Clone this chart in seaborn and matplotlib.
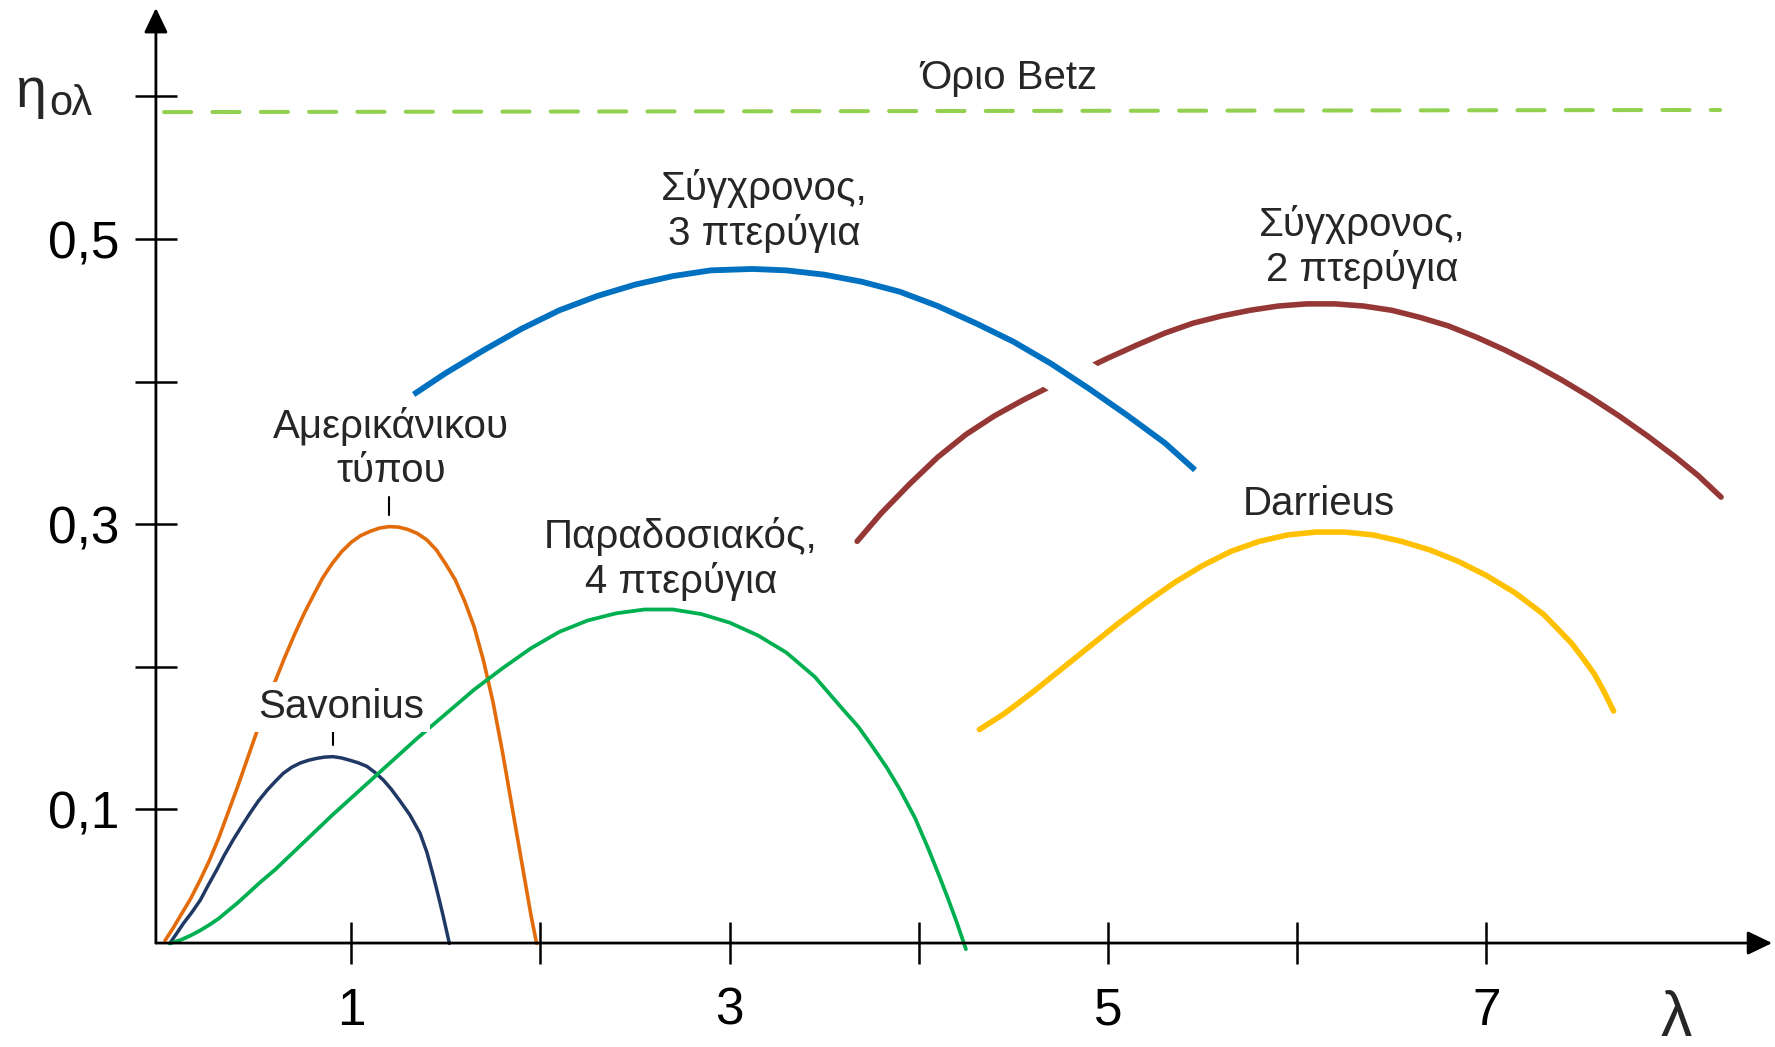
import matplotlib.pyplot as plt
import matplotlib.patheffects as pe
import seaborn as sns

# tip speed ratio (lambda) and overall efficiency
savonius_lam = [0.041, 0.08, 0.113, 0.16, 0.203, 0.245, 0.289, 0.33, 0.376, 0.42, 0.465, 0.51, 0.556,
                0.60, 0.641, 0.685, 0.730, 0.775, 0.818, 0.86, 0.903, 0.945, 0.990, 1.035, 1.083, 1.125,
                1.170, 1.21, 1.256, 1.31, 1.364, 1.40, 1.436, 1.465, 1.487, 1.519]
savonius_eta = [0.006, 0.0135, 0.020, 0.0282, 0.0365, 0.047, 0.0575, 0.068, 0.0786, 0.088, 0.0973, 0.106,
                0.1135, 0.1198, 0.1253, 0.1295, 0.1325, 0.1345, 0.1358, 0.1367, 0.1370, 0.1362, 0.1346,
                0.1328, 0.1302, 0.126, 0.1206, 0.1145, 0.1063, 0.0962, 0.0833, 0.070, 0.0524, 0.037,
                0.0248, 0.006]

american_lam = [0.016, 0.06, 0.10, 0.15, 0.20, 0.25, 0.30, 0.35, 0.40, 0.45, 0.50, 0.55, 0.60, 0.65,
                0.70, 0.75, 0.80, 0.85, 0.90, 0.95, 1.00, 1.05, 1.10, 1.15, 1.20, 1.25, 1.30, 1.35,
                1.40, 1.45, 1.50, 1.55, 1.60, 1.65, 1.70, 1.75, 1.80, 1.85, 1.90, 1.95, 1.98]
american_eta = [0.008, 0.017, 0.026, 0.037, 0.050, 0.064, 0.080, 0.098, 0.116, 0.135, 0.154, 0.172,
                0.1905, 0.207, 0.2225, 0.237, 0.250, 0.2625, 0.2725, 0.2808, 0.2873, 0.292, 0.295,
                0.2973, 0.2983, 0.298, 0.2963, 0.2935, 0.289, 0.282, 0.272, 0.261, 0.246, 0.228, 0.204,
                0.175, 0.140, 0.102, 0.064, 0.026, 0.006]

dutch_lam = [0.042, 0.10, 0.15, 0.20, 0.25, 0.30, 0.35, 0.40, 0.45, 0.52, 0.60, 0.75, 0.90, 1.05,
             1.20, 1.35, 1.50, 1.65, 1.80, 1.95, 2.10, 2.25, 2.40, 2.55, 2.70, 2.85, 3.00, 3.15,
             3.30, 3.45, 3.60, 3.68, 3.75, 3.83, 3.90, 3.98, 4.05, 4.10, 4.15, 4.20, 4.249]
dutch_eta = [0.006, 0.0085, 0.0115, 0.015, 0.019, 0.0235, 0.029, 0.0345, 0.0405, 0.049, 0.058, 0.077,
             0.096, 0.114, 0.132, 0.150, 0.167, 0.184, 0.199, 0.213, 0.2245, 0.2325, 0.2375, 0.2402,
             0.2402, 0.237, 0.231, 0.222, 0.210, 0.193, 0.170, 0.158, 0.145, 0.1295, 0.114, 0.094,
             0.0725, 0.056, 0.039, 0.021, 0.002]

three_blade_lam = [1.33, 1.50, 1.70, 1.90, 2.10, 2.30, 2.50, 2.70, 2.90, 3.12, 3.30, 3.50, 3.70, 3.90,
                   4.10, 4.30, 4.50, 4.70, 4.90, 5.10, 5.30, 5.46]
three_blade_eta = [0.391, 0.406, 0.422, 0.437, 0.450, 0.460, 0.468, 0.474, 0.478, 0.479, 0.478, 0.475,
                   0.470, 0.463, 0.453, 0.441, 0.428, 0.4125, 0.395, 0.3765, 0.357, 0.338]

two_blade_lam = [3.674, 3.80, 3.95, 4.10, 4.25, 4.40, 4.55, 4.70, 4.85, 5.00, 5.15, 5.30, 5.45, 5.60,
                 5.75, 5.90, 6.05, 6.20, 6.35, 6.50, 6.65, 6.80, 6.95, 7.10, 7.25, 7.40, 7.55, 7.70,
                 7.85, 8.00, 8.12, 8.24]
two_blade_eta = [0.288, 0.3075, 0.328, 0.347, 0.363, 0.376, 0.387, 0.397, 0.407, 0.4165, 0.4255, 0.434,
                 0.441, 0.446, 0.450, 0.453, 0.4545, 0.4545, 0.453, 0.450, 0.445, 0.439, 0.431, 0.422,
                 0.412, 0.401, 0.389, 0.376, 0.362, 0.347, 0.334, 0.319]

darrieus_lam = [4.32, 4.45, 4.60, 4.75, 4.90, 5.05, 5.20, 5.35, 5.50, 5.65, 5.80, 5.95, 6.10, 6.25,
                6.40, 6.55, 6.70, 6.85, 7.00, 7.15, 7.30, 7.37, 7.45, 7.51, 7.57, 7.62, 7.672]
darrieus_eta = [0.156, 0.167, 0.182, 0.198, 0.214, 0.230, 0.245, 0.259, 0.271, 0.281, 0.288, 0.2925,
                0.2945, 0.2945, 0.2925, 0.288, 0.282, 0.274, 0.264, 0.252, 0.237, 0.2275, 0.2165,
                0.206, 0.195, 0.183, 0.169]

betz_lam = [0.011, 8.235]
betz_eta = [0.589, 0.5905]

x_ticks = [1, 2, 3, 4, 5, 6, 7]
x_ticklabels = ['1', '', '3', '', '5', '', '7']
y_ticks = [0.1, 0.2, 0.3, 0.4, 0.5, 0.6]
y_ticklabels = ['0,1', '', '0,3', '', '0,5', '']

sns.set_theme(style='white')
plt.rcParams['font.family'] = ['Liberation Sans', 'DejaVu Sans']

fig = plt.figure(figsize=(17.75, 10.47), dpi=100)
ax = fig.add_axes([0, 0, 1, 1])

# thin curves
sns.lineplot(x=savonius_lam, y=savonius_eta, color='#203864', lw=2.5, estimator=None,
             solid_capstyle='round', solid_joinstyle='round', clip_on=False, ax=ax)
sns.lineplot(x=american_lam, y=american_eta, color='#E36C0A', lw=2.6, estimator=None,
             solid_capstyle='round', solid_joinstyle='round', clip_on=False, ax=ax)
sns.lineplot(x=dutch_lam, y=dutch_eta, color='#00B050', lw=2.7, estimator=None,
             solid_capstyle='round', solid_joinstyle='round', clip_on=False, ax=ax)

# thick curves
sns.lineplot(x=two_blade_lam, y=two_blade_eta, color='#953735', lw=4.0, estimator=None,
             solid_capstyle='round', solid_joinstyle='round', zorder=2, ax=ax)
sns.lineplot(x=three_blade_lam, y=three_blade_eta, color='#0070C0', lw=4.2, estimator=None,
             solid_capstyle='butt', solid_joinstyle='round', zorder=3, ax=ax,
             path_effects=[pe.Stroke(linewidth=34, foreground='white', capstyle='butt'), pe.Normal()])
sns.lineplot(x=darrieus_lam, y=darrieus_eta, color='#FFC000', lw=4.0, estimator=None,
             solid_capstyle='round', solid_joinstyle='round', ax=ax)

# Betz limit
sns.lineplot(x=betz_lam, y=betz_eta, color='#92D050', lw=2.9, estimator=None,
             linestyle=(0, (6.75, 5.25)), dash_capstyle='round', ax=ax)

ax.set_xlim(-0.856, 8.525)
ax.set_ylim(-0.0666, 0.6676)

# axes drawn as arrows through the origin
for s in ax.spines.values():
    s.set_visible(False)
ax.spines['left'].set_position(('data', -0.032))
ax.spines['bottom'].set_position(('data', 0.0063))
arrow = dict(arrowstyle='-|>,head_length=0.75,head_width=0.36', color='black', lw=2.0,
             shrinkA=0, shrinkB=0, mutation_scale=20)
ax.annotate('', xy=(8.51, 0.0063), xytext=(-0.032, 0.0063), arrowprops=arrow, annotation_clip=False)
ax.annotate('', xy=(-0.032, 0.662), xytext=(-0.032, 0.0063), arrowprops=arrow, annotation_clip=False)

ax.set_xticks(x_ticks, x_ticklabels)
ax.set_yticks(y_ticks, y_ticklabels)
ax.tick_params(axis='both', direction='inout', length=30, width=1.8, labelsize=37,
               color='black', labelcolor='black', bottom=True, left=True, top=False, right=False)
ax.tick_params(axis='x', pad=16.5)
ax.tick_params(axis='y', pad=11.5)
ax.grid(False)
ax.set_xlabel('')
ax.set_ylabel('')

# axis titles
fig.text(15 / 1775, 1 - 107 / 1047, 'η', fontsize=40, ha='left', va='baseline')
fig.text(49 / 1775, 1 - 115 / 1047, 'ολ', fontsize=30, ha='left', va='baseline')
fig.text(1676 / 1775, 1 - 1036 / 1047, 'λ', fontsize=45, ha='center', va='baseline')

# curve labels (for two-line labels the position is the baseline of the last line)
lab = dict(fontsize=29, ha='center', va='baseline', multialignment='center', zorder=6)
ax.text(4.477, 0.6052, 'Όριο Betz', **lab)
ax.text(3.182, 0.4958, 'Σύγχρονος,\n3 πτερύγια', **lab)
ax.text(6.343, 0.4705, 'Σύγχρονος,\n2 πτερύγια', **lab)
ax.text(1.210, 0.3296, 'Αμερικάνικου\nτύπου', **lab)
ax.text(2.743, 0.2518, 'Παραδοσιακός,\n4 πτερύγια', **lab)
ax.text(6.115, 0.3065, 'Darrieus', **lab)
ax.text(0.946, 0.164, 'Savonius', bbox=dict(boxstyle='square,pad=0.15', fc='white', ec='none'), **lab)

# short leader marks above the two peaks
for lam, eta in [(american_lam, american_eta), (savonius_lam, savonius_eta)]:
    i = eta.index(max(eta))
    ax.plot([lam[i], lam[i]], [eta[i] + 0.008, eta[i] + 0.021], color='black', lw=1.5)

fig.savefig('out.png', dpi=100)
